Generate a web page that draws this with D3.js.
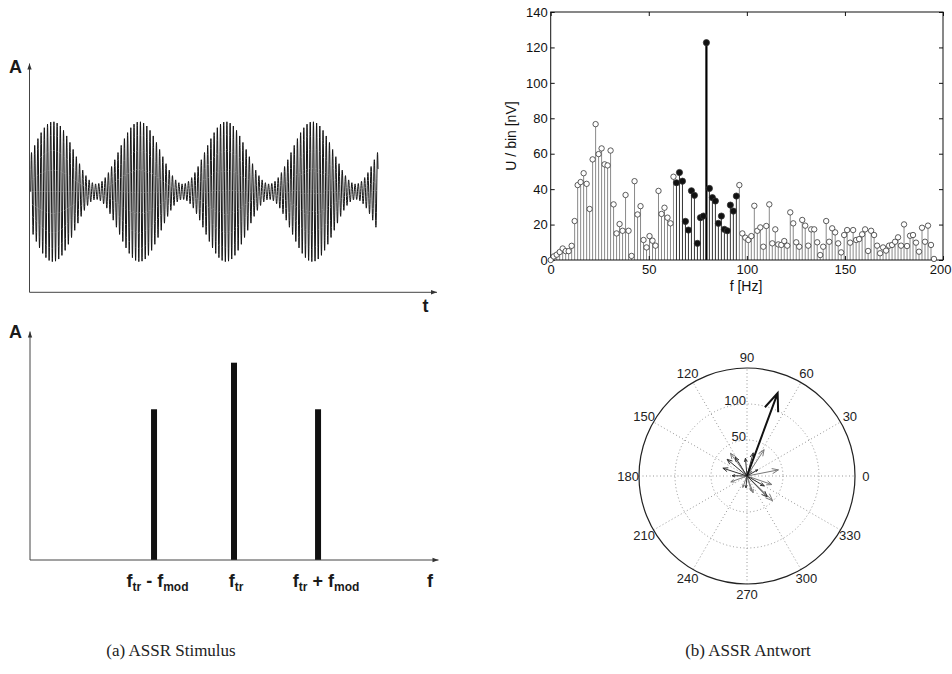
<!DOCTYPE html>
<html>
<head>
<meta charset="utf-8">
<script src="https://cdn.jsdelivr.net/npm/d3@7"></script>
<style>
  body { margin: 0; background: #fff; }
  svg { display: block; font-family: "Liberation Sans", Arial, sans-serif; }
  .sketch { font-weight: bold; fill: #1a1a1a; }
  .caption { font-family: "Liberation Serif", "Times New Roman", serif; font-size: 17px; fill: #222; }
  .tick text { font-family: "Liberation Sans", Arial, sans-serif; }
</style>
</head>
<body>
<svg id="fig" width="952" height="674"></svg>
<script>
// ---------- data ----------

// (a) stimulus: amplitude modulated tone as drawn in the sketch
const stimPeriods = 4.015;        // modulation periods shown
const stimCarrierPerPeriod = 27;  // carrier cycles per modulation period
const stimDepth = 0.8;            // modulation depth
const stimPeakAt = 0.258;         // first envelope maximum, in periods

// (a) stimulus spectrum (arbitrary frequency units, amplitude relative to carrier)
const specFreqs = [30.4, 50, 70.6];
const specAmps = [0.764, 1, 0.764];
const specLabels = ["f_tr - f_mod", "f_tr", "f_tr + f_mod"];

// (b) response spectrum, one value per FFT bin [nV]
const binWidth = 1.5266; // Hz
const binAmps = [
  0, 2, 3, 4.5, 6.5, 5, 5, 8, 22, 42.3,
  44, 49, 43, 28.8, 56.8, 76.7, 59.8, 63, 54, 53.4,
  61.8, 31.4, 15, 20.3, 16.5, 36.7, 16.5, 2.3, 44.5, 25.7,
  30.4, 11.3, 7.1, 13.5, 10.9, 8.1, 39, 26, 29.5, 23.9,
  20.7, 47, 43.6, 49.4, 44.5, 21.8, 16.9, 39.1, 36.5, 9.4,
  23.9, 24.8, 122.7, 40.4, 35.2, 33.3, 20.7, 24.8, 17.3, 16.5,
  31, 27.6, 36.1, 42.3, 15, 12.6, 11.3, 13.5, 30.6, 16.5,
  18.4, 7.5, 19.2, 31.4, 9.4, 17.3, 8.8, 8.5, 10.7, 8.1,
  26.9, 20.7, 10, 7.5, 22.6, 19.4, 8.1, 17.3, 17.3, 10,
  2.8, 7.5, 22, 10.3, 17.9, 15.6, 9.4, 4.3, 14.1, 16.9,
  9.8, 16.9, 11.3, 11.8, 14.5, 17.3, 5.1, 16.5, 14.1, 8.1,
  3.8, 7.1, 5.3, 8.1, 8.5, 10.3, 12.8, 8.1, 20.1, 7.9,
  13.7, 14.1, 9.8, 4.7, 18.2, 10.3, 19.4, 8.5, 0.6
];
const spikeBin = 52;               // stimulation frequency bin
const respFirstBin = 42;           // filled markers: neighbouring bins
const respLastBin = 62;
// phase [deg] of the bins respFirstBin..respLastBin (compass plot)
const respPhases = [
  57, 316, 11, 286, 250, 126, 341, 45, 200, 290,
  69.7,
  314, 162, 75, 179, 95, 30, 265, 122, 330, 140
];

const yTicks = [0, 20, 40, 60, 80, 100, 120, 140];
const xTicks = [0, 50, 100, 150, 200];
const polarRings = [50, 100];
const polarMax = 150;
const polarAngles = [0, 30, 60, 90, 120, 150, 180, 210, 240, 270, 300, 330];

const captions = ["(a) ASSR Stimulus", "(b) ASSR Antwort"];

// ---------- drawing ----------
const svg = d3.select("#fig");
svg.append("rect").attr("width", 952).attr("height", 674).attr("fill", "#fff");

// small filled arrow head for the sketch axes
function arrowAxis(g, x0, y0, x1, y1) {
  g.append("line")
    .attr("x1", x0).attr("y1", y0).attr("x2", x1).attr("y2", y1)
    .attr("stroke", "#444").attr("stroke-width", 1);
  const a = Math.atan2(y1 - y0, x1 - x0), len = 6, half = 2.2;
  const bx = x1 - len * Math.cos(a), by = y1 - len * Math.sin(a);
  const px = -Math.sin(a) * half, py = Math.cos(a) * half;
  g.append("path")
    .attr("d", `M${x1},${y1}L${bx + px},${by + py}L${bx - px},${by - py}Z`)
    .attr("fill", "#333");
}

function subLabel(g, str, x, y, size, subSize) {
  // "f_tr" -> f with subscript tr
  const parts = str.split(/_(\w+)/);
  const t = g.append("text").attr("class", "sketch")
    .attr("x", x).attr("y", y).attr("text-anchor", "middle")
    .style("white-space", "pre").attr("font-size", size);
  parts.forEach((p, i) => {
    if (p === "") return;
    const isSub = i % 2 === 1;
    t.append("tspan").text(p)
      .attr("font-size", isSub ? subSize : size)
      .attr("dy", isSub ? 4 : (i > 0 ? -4 : 0));
  });
}

function drawStimulus() {
  const g = svg.append("g");
  const x = d3.scaleLinear([0, stimPeriods], [30.7, 378]);
  const y = d3.scaleLinear([-1, 1], [261.7, 121.7]);

  const n = Math.round(stimPeriods * stimCarrierPerPeriod * 20);
  const samples = d3.range(n + 1).map(i => {
    const t = i / n * stimPeriods;
    const env = (1 + stimDepth * Math.cos(2 * Math.PI * (t - stimPeakAt))) / (1 + stimDepth);
    return [t, env * Math.sin(2 * Math.PI * stimCarrierPerPeriod * t)];
  });

  g.append("path")
    .datum(samples)
    .attr("d", d3.line().x(d => x(d[0])).y(d => y(d[1])))
    .attr("fill", "none")
    .attr("stroke", "#151515")
    .attr("stroke-width", 1);

  arrowAxis(g, 29.5, 292.3, 29.5, 63.5);
  arrowAxis(g, 29.5, 292.3, 437, 292.3);
  g.append("text").attr("class", "sketch").attr("x", 15.5).attr("y", 73)
    .attr("text-anchor", "middle").attr("font-size", 18).text("A");
  g.append("text").attr("class", "sketch").attr("x", 425.5).attr("y", 311.5)
    .attr("text-anchor", "middle").attr("font-size", 18).text("t");
}

function drawSpectrum() {
  const g = svg.append("g");
  const x = d3.scaleLinear([0, 100], [30, 438]);
  const y = d3.scaleLinear([0, 1], [560, 362.7]);

  g.selectAll("rect.line")
    .data(specFreqs)
    .join("rect")
    .attr("class", "line")
    .attr("x", d => x(d) - 3)
    .attr("width", 6)
    .attr("y", (d, i) => y(specAmps[i]))
    .attr("height", (d, i) => y(0) - y(specAmps[i]))
    .attr("fill", "#111");

  arrowAxis(g, 30, 560, 30, 331.5);
  arrowAxis(g, 30, 560, 438.5, 560);

  const shift = [3.5, 2, 8];
  specLabels.forEach((lab, i) => subLabel(g, lab, x(specFreqs[i]) + shift[i], 586.5, 18, 12));

  g.append("text").attr("class", "sketch").attr("x", 15.5).attr("y", 338.3)
    .attr("text-anchor", "middle").attr("font-size", 18).text("A");
  g.append("text").attr("class", "sketch").attr("x", 430).attr("y", 586.7)
    .attr("text-anchor", "middle").attr("font-size", 18).text("f");
}

function drawResponse() {
  const g = svg.append("g");
  const x = d3.scaleLinear([0, 200], [550.7, 943]);
  const y = d3.scaleLinear([0, 140], [260, 12]);
  const isResp = i => i >= respFirstBin && i <= respLastBin && i !== spikeBin;

  const bins = binAmps.map((v, i) => ({ f: i * binWidth, v, i }));

  // stems
  g.selectAll("line.stem")
    .data(bins)
    .join("line")
    .attr("class", "stem")
    .attr("x1", d => x(d.f)).attr("x2", d => x(d.f))
    .attr("y1", y(0)).attr("y2", d => y(d.v))
    .attr("stroke", d => d.i === spikeBin ? "#000" : isResp(d.i) ? "#333" : "#8a8a8a")
    .attr("stroke-width", d => d.i === spikeBin ? 2.2 : 1);

  // box and axes (ticks inside, MATLAB style)
  g.append("rect")
    .attr("x", x(0)).attr("y", y(140))
    .attr("width", x(200) - x(0)).attr("height", y(0) - y(140))
    .attr("fill", "none").attr("stroke", "#111").attr("stroke-width", 1);

  const styleAxis = sel => {
    sel.select(".domain").remove();
    sel.selectAll(".tick line").attr("stroke", "#111");
    sel.selectAll(".tick text").attr("fill", "#111").attr("font-size", 13);
  };
  g.append("g").attr("transform", `translate(0,${y(0)})`)
    .call(d3.axisBottom(x).tickValues(xTicks).tickSize(-4).tickPadding(5))
    .call(styleAxis)
    .call(ax => ax.selectAll(".tick text")
      .filter(d => d === 200)
      .attr("text-anchor", "end")
      .attr("x", 951 - x(200)));
  g.append("g").attr("transform", `translate(0,${y(140)})`)
    .call(d3.axisTop(x).tickValues(xTicks).tickSize(-4).tickFormat(""))
    .call(styleAxis);
  g.append("g").attr("transform", `translate(${x(0)},0)`)
    .call(d3.axisLeft(y).tickValues(yTicks).tickSize(-4).tickPadding(3))
    .call(styleAxis);
  g.append("g").attr("transform", `translate(${x(200)},0)`)
    .call(d3.axisRight(y).tickValues(yTicks).tickSize(-4).tickFormat(""))
    .call(styleAxis);

  // markers
  g.selectAll("circle.mk")
    .data(bins)
    .join("circle")
    .attr("class", "mk")
    .attr("cx", d => x(d.f)).attr("cy", d => y(d.v))
    .attr("r", d => d.i === spikeBin || isResp(d.i) ? 3.1 : 2.7)
    .attr("fill", d => d.i === spikeBin || isResp(d.i) ? "#111" : "#fff")
    .attr("stroke", "#333")
    .attr("stroke-width", 0.8);

  g.append("text").attr("x", 746).attr("y", 291).attr("text-anchor", "middle")
    .attr("font-size", 14).attr("fill", "#111").text("f [Hz]");
  g.append("text").attr("transform", "translate(516,136) rotate(-90)")
    .attr("text-anchor", "middle").attr("font-size", 14).attr("fill", "#111")
    .text("U / bin [nV]");
}

function drawCompass() {
  const cx = 747, cy = 476, R = 108;
  const g = svg.append("g").attr("transform", `translate(${cx},${cy})`);
  const r = d3.scaleLinear([0, polarMax], [0, R]);
  const rad = a => a * Math.PI / 180;

  // dotted grid
  g.selectAll("circle.ring")
    .data(polarRings)
    .join("circle")
    .attr("r", d => r(d))
    .attr("fill", "none").attr("stroke", "#8a8a8a")
    .attr("stroke-width", 0.9).attr("stroke-dasharray", "1,2.5");
  g.selectAll("line.spoke")
    .data(polarAngles.filter(a => a < 180))
    .join("line")
    .attr("x1", a => -R * Math.cos(rad(a))).attr("y1", a => R * Math.sin(rad(a)))
    .attr("x2", a => R * Math.cos(rad(a))).attr("y2", a => -R * Math.sin(rad(a)))
    .attr("stroke", "#8a8a8a").attr("stroke-width", 0.9).attr("stroke-dasharray", "1,2.5");
  g.append("circle").attr("r", R).attr("fill", "none")
    .attr("stroke", "#222").attr("stroke-width", 1.2);

  g.selectAll("text.ang")
    .data(polarAngles)
    .join("text")
    .attr("x", a => 1.1 * R * Math.cos(rad(a)))
    .attr("y", a => -1.1 * R * Math.sin(rad(a)))
    .attr("dy", "0.35em").attr("text-anchor", "middle")
    .attr("font-size", 13).attr("fill", "#222")
    .text(a => a);
  g.selectAll("text.ring")
    .data(polarRings)
    .join("text")
    .attr("x", -1).attr("y", d => -r(d) + 1)
    .attr("text-anchor", "end").attr("font-size", 13).attr("fill", "#222")
    .text(d => d);

  // compass arrows
  const arrows = respPhases.map((ph, k) => {
    const i = respFirstBin + k;
    return { i, amp: binAmps[i], ph };
  });
  const arrowPath = d => {
    const L = r(d.amp), a = rad(d.ph);
    const ux = Math.cos(a), uy = -Math.sin(a);
    const tx = L * ux, ty = L * uy;
    const bx = 0.8 * tx, by = 0.8 * ty;
    const px = -uy * 0.08 * L, py = ux * 0.08 * L;
    return `M0,0L${tx},${ty}M${bx + px},${by + py}L${tx},${ty}L${bx - px},${by - py}`;
  };
  g.selectAll("path.arrow")
    .data(arrows.sort((a, b) => (a.i === spikeBin) - (b.i === spikeBin)))
    .join("path")
    .attr("d", arrowPath)
    .attr("fill", "none")
    .attr("stroke", d => d.i === spikeBin ? "#111" : d.i < spikeBin ? "#7a7a7a" : "#333")
    .attr("stroke-width", d => d.i === spikeBin ? 2 : 1);
}

drawStimulus();
drawSpectrum();
drawResponse();
drawCompass();

svg.selectAll("text.caption")
  .data(captions)
  .join("text")
  .attr("class", "caption")
  .attr("x", (d, i) => i === 0 ? 171 : 748)
  .attr("y", 656)
  .attr("text-anchor", "middle")
  .text(d => d);
</script>
</body>
</html>
